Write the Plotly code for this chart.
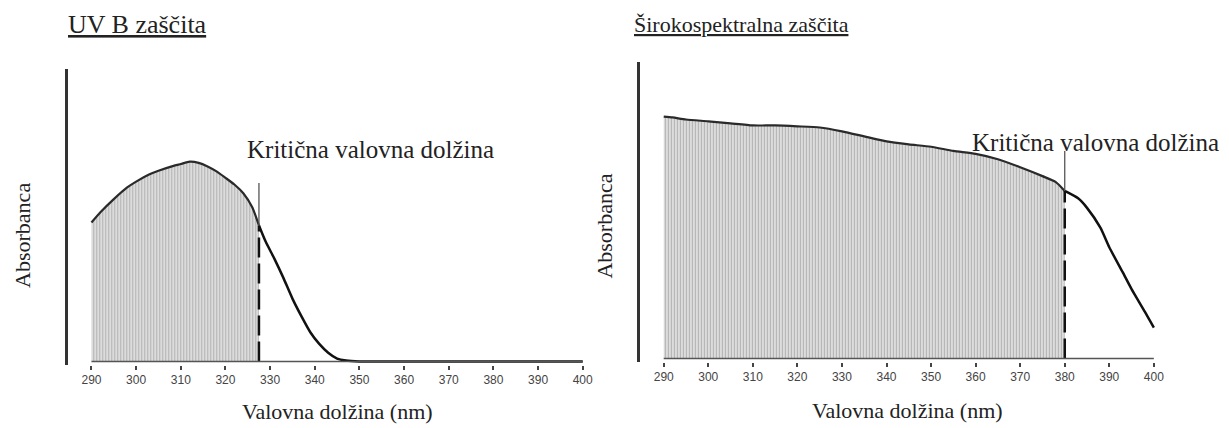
import plotly.graph_objects as go

# ---- data ----
uvb_wl = [290, 292, 295, 298, 300, 303, 305, 308, 310, 312, 314, 316, 318, 320, 322, 324, 326, 327.5,
          329, 331, 333, 335, 337, 339, 341, 343, 345, 347, 350, 360, 370, 380, 390, 400]
uvb_abs = [0.475, 0.51, 0.555, 0.595, 0.615, 0.64, 0.652, 0.667, 0.675, 0.683, 0.679, 0.667, 0.65, 0.628,
           0.605, 0.575, 0.527, 0.465, 0.41, 0.35, 0.285, 0.215, 0.155, 0.10, 0.06, 0.03, 0.01, 0.003,
           0.0, 0.0, 0.0, 0.0, 0.0, 0.0]
uvb_critical = 327.5
uvb_critical_top = 0.61

broad_wl = [290, 292, 295, 300, 305, 310, 315, 320, 325, 330, 335, 340, 345, 350, 355, 360, 365, 370,
            375, 378, 380, 383, 385, 388, 390, 393, 395, 398, 400]
broad_abs = [0.816, 0.813, 0.806, 0.80, 0.793, 0.786, 0.786, 0.783, 0.779, 0.766, 0.749, 0.732, 0.722,
             0.714, 0.70, 0.69, 0.672, 0.645, 0.615, 0.595, 0.565, 0.54, 0.508, 0.441, 0.375, 0.291,
             0.234, 0.157, 0.104]
broad_critical = 380
broad_critical_top = 0.70

tick_vals = [290, 300, 310, 320, 330, 340, 350, 360, 370, 380, 390, 400]
tick_text = [str(v) for v in tick_vals]

titles = ["UV B zaščita", "Širokospektralna zaščita"]
y_title = "Absorbanca"
x_title = "Valovna dolžina (nm)"
crit_label = "Kritična valovna dolžina"

W, H = 1229, 428
SERIF = "Liberation Serif, Times New Roman, serif"
TICKFONT = dict(family="Liberation Sans Narrow, Liberation Sans, Arial", size=12, color="#444444")

fig = go.Figure()


def add_panel(idx, wl, ab, crit, crit_top):
    xa = "x" if idx == 1 else f"x{idx}"
    ya = "y" if idx == 1 else f"y{idx}"
    ci = wl.index(crit)
    # hatched filled area up to the critical wavelength
    fig.add_trace(go.Scatter(
        x=wl[:ci + 1], y=ab[:ci + 1], xaxis=xa, yaxis=ya, mode="lines",
        fill="tozeroy",
        fillpattern=dict(shape="|", size=3, solidity=0.5, fgcolor="#7c7c7c", bgcolor="#e9e9e9"),
        line=dict(color="#2a2a2a", width=2.2, shape="spline", smoothing=0.6),
        showlegend=False, hoverinfo="skip"))
    # curve beyond the critical wavelength
    fig.add_trace(go.Scatter(
        x=wl[ci:], y=ab[ci:], xaxis=xa, yaxis=ya, mode="lines",
        line=dict(color="#111111", width=2.5, shape="spline", smoothing=0.6),
        showlegend=False, hoverinfo="skip"))
    # critical wavelength marker: dashed below the curve, thin above
    fig.add_trace(go.Scatter(
        x=[crit, crit], y=[0, ab[ci]], xaxis=xa, yaxis=ya, mode="lines",
        line=dict(color="#111111", width=2.5, dash="20px,6px"), showlegend=False, hoverinfo="skip"))
    fig.add_trace(go.Scatter(
        x=[crit, crit], y=[ab[ci], crit_top], xaxis=xa, yaxis=ya, mode="lines",
        line=dict(color="#555555", width=1.3), showlegend=False, hoverinfo="skip"))
    # baseline under the tick range
    fig.add_shape(type="line", xref=xa, yref=ya, x0=tick_vals[0], x1=tick_vals[-1], y0=0, y1=0,
                  line=dict(color="#555555", width=1.5))


add_panel(1, uvb_wl, uvb_abs, uvb_critical, uvb_critical_top)
add_panel(2, broad_wl, broad_abs, broad_critical, broad_critical_top)


def px_x(p):
    return p / W


def px_y(p):
    return 1 - p / H


xcommon = dict(tickmode="array", tickvals=tick_vals, ticktext=tick_text, ticks="outside", ticklen=4,
               tickwidth=1.5, tickcolor="#444", showline=False, showgrid=False, zeroline=False,
               tickfont=TICKFONT, fixedrange=True)
ycommon = dict(showticklabels=False, ticks="", showgrid=False, zeroline=False, showline=True,
               linecolor="#333333", linewidth=2.5, range=[-0.012, 1.0], fixedrange=True)

fig.update_layout(
    width=W, height=H, margin=dict(l=0, r=0, t=0, b=0),
    paper_bgcolor="white", plot_bgcolor="white", showlegend=False,
    xaxis=dict(domain=[px_x(60.6), px_x(581.6)], range=[284.8, 400.8], anchor="y", **xcommon),
    yaxis=dict(domain=[px_y(357), px_y(61)], anchor="x", **ycommon),
    xaxis2=dict(domain=[px_x(635.5), px_x(1156)], range=[284.65, 400.8], anchor="y2", **xcommon),
    yaxis2=dict(domain=[px_y(354), px_y(54)], anchor="x2", **ycommon),
)

ann = []
# panel titles (underlined)
ann.append(dict(text=f"<u>{titles[0]}</u>", x=px_x(58), y=px_y(16), xref="paper", yref="paper",
                xanchor="left", yanchor="middle", showarrow=False,
                font=dict(family=SERIF, size=26, color="#222")))
ann.append(dict(text=f"<u>{titles[1]}</u>", x=px_x(628), y=px_y(16), xref="paper", yref="paper",
                xanchor="left", yanchor="middle", showarrow=False,
                font=dict(family=SERIF, size=22, color="#222")))
# y titles
ann.append(dict(text=y_title, x=px_x(14), y=px_y(227), xref="paper", yref="paper", textangle=-90,
                xanchor="center", yanchor="middle", showarrow=False,
                font=dict(family=SERIF, size=22, color="#222")))
ann.append(dict(text=y_title, x=px_x(599), y=px_y(218), xref="paper", yref="paper", textangle=-90,
                xanchor="center", yanchor="middle", showarrow=False,
                font=dict(family=SERIF, size=22, color="#222")))
# x titles
ann.append(dict(text=x_title, x=px_x(331), y=px_y(403), xref="paper", yref="paper",
                xanchor="center", yanchor="middle", showarrow=False,
                font=dict(family=SERIF, size=22, color="#222")))
ann.append(dict(text=x_title, x=px_x(905), y=px_y(402), xref="paper", yref="paper",
                xanchor="center", yanchor="middle", showarrow=False,
                font=dict(family=SERIF, size=22, color="#222")))
# critical wavelength labels
ann.append(dict(text=crit_label, x=px_x(238), y=px_y(141), xref="paper", yref="paper",
                xanchor="left", yanchor="middle", showarrow=False,
                font=dict(family=SERIF, size=25, color="#222")))
ann.append(dict(text=crit_label, x=px_x(968), y=px_y(134), xref="paper", yref="paper",
                xanchor="left", yanchor="middle", showarrow=False,
                font=dict(family=SERIF, size=25, color="#222")))
fig.update_layout(annotations=ann)

fig.write_html("out.html")
